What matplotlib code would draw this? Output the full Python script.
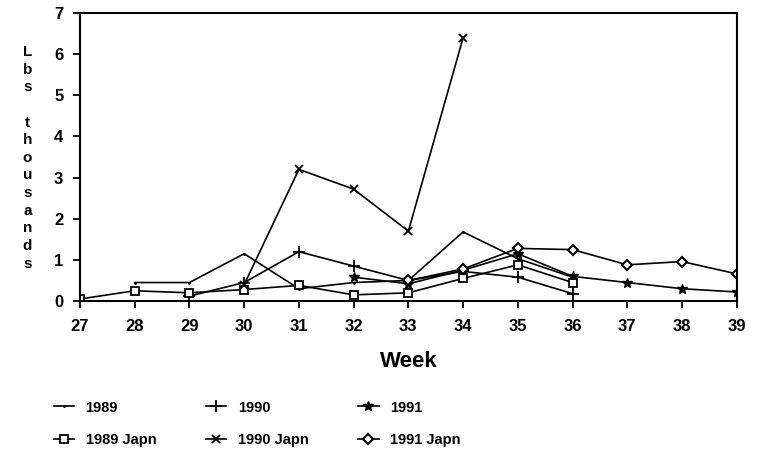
import matplotlib
matplotlib.use("Agg")
import matplotlib.pyplot as plt

plt.rcParams['font.family'] = ['Liberation Sans', 'DejaVu Sans']
plt.rcParams['font.weight'] = 'bold'

# weekly values, thousands of lbs
wk_1989 = [28, 29, 30, 31, 32, 33, 34, 35, 36]
v_1989 = [0.45, 0.45, 1.15, 0.3, 0.45, 0.5, 1.68, 1.03, 0.58]
wk_1990 = [29, 30, 31, 32, 33, 34, 35, 36]
v_1990 = [0.12, 0.45, 1.2, 0.85, 0.5, 0.72, 0.58, 0.18]
wk_1991 = [32, 33, 34, 35, 36, 37, 38, 39]
v_1991 = [0.58, 0.42, 0.75, 1.15, 0.6, 0.45, 0.3, 0.22]
wk_1989j = [27, 28, 29, 30, 31, 32, 33, 34, 35, 36]
v_1989j = [0.05, 0.25, 0.2, 0.28, 0.38, 0.15, 0.2, 0.55, 0.88, 0.45]
wk_1990j = [30, 31, 32, 33, 34]
v_1990j = [0.4, 3.2, 2.72, 1.7, 6.4]
wk_1991j = [33, 34, 35, 36, 37, 38, 39]
v_1991j = [0.5, 0.78, 1.28, 1.25, 0.88, 0.96, 0.66]

weeks = list(range(27, 40))
ylab = "Lbs thousands"

fig = plt.figure(figsize=(7.58, 4.5), dpi=100)
ax = fig.add_axes([0.1055, 0.331, 0.8665, 0.64])

lw = 1.2
l89, = ax.plot(wk_1989, v_1989, color='k', lw=lw, marker='.', ms=2)
l90, = ax.plot(wk_1990, v_1990, color='k', lw=lw, marker='+', ms=9, mew=1.3)
l91, = ax.plot(wk_1991, v_1991, color='k', lw=lw, marker='*', ms=7)
l89j, = ax.plot(wk_1989j, v_1989j, color='k', lw=lw, marker='s', ms=6, mfc='white', mew=1.3)
l90j, = ax.plot(wk_1990j, v_1990j, color='k', lw=lw, marker='x', ms=6, mew=1.3)
l91j, = ax.plot(wk_1991j, v_1991j, color='k', lw=lw, marker='D', ms=5, mfc='white', mew=1.5)

ax.set_xlim(27, 39)
ax.set_ylim(0, 7)
ax.set_xticks(weeks)
ax.set_yticks(range(0, 8))
for s in ax.spines.values():
    s.set_linewidth(1.5)
ax.tick_params(direction='out', length=5, width=1.3, labelsize=12, pad=8)
ax.tick_params(axis='y', pad=7)
for t in ax.get_xticklabels() + ax.get_yticklabels():
    t.set_fontweight('bold')

ax.set_xlabel("Week", fontsize=16, fontweight='bold', labelpad=12)

# stacked vertical y label
fig.text(0.036, 0.9, "\n".join(ylab), ha='center', va='top',
         fontsize=11, fontweight='bold', linespacing=1.33)

handles = [l89, l89j, l90, l90j, l91, l91j]
labels = ["1989", "1989 Japn", "1990", "1990 Japn", "1991", "1991 Japn"]
fig.legend(handles, labels, ncol=3, loc='upper left', bbox_to_anchor=(0.061, 0.126),
           frameon=False, prop={'size': 10.5, 'weight': 'bold'}, handlelength=1.4,
           handletextpad=0.8, columnspacing=3.4, labelspacing=1.25, borderpad=0)

fig.savefig("out.png", dpi=100)
